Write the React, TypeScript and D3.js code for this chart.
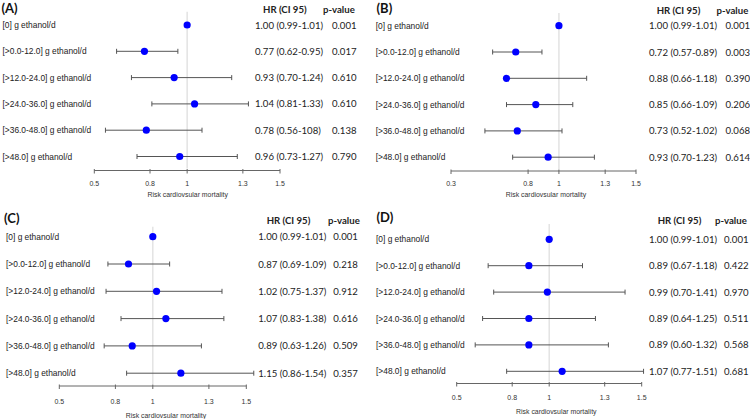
import React from "react";
import * as d3 from "d3";

const categories = [
  "[0] g ethanol/d",
  "[>0.0-12.0] g ethanol/d",
  "[>12.0-24.0] g ethanol/d",
  "[>24.0-36.0] g ethanol/d",
  "[>36.0-48.0] g ethanol/d",
  "[>48.0] g ethanol/d",
];

// Panel A
const estA = [1.0, 0.77, 0.93, 1.04, 0.78, 0.96];
const loA = [0.99, 0.62, 0.7, 0.81, 0.56, 0.73];
const hiA = [1.01, 0.95, 1.24, 1.33, 1.08, 1.27];
const hrTextA = ["1.00 (0.99-1.01)", "0.77 (0.62-0.95)", "0.93 (0.70-1.24)", "1.04 (0.81-1.33)", "0.78 (0.56-108)", "0.96 (0.73-1.27)"];
const pA = ["0.001", "0.017", "0.610", "0.610", "0.138", "0.790"];
const ticksA = [0.5, 0.8, 1, 1.3, 1.5];

// Panel B
const estB = [1.0, 0.72, 0.66, 0.85, 0.73, 0.93];
const loB = [0.99, 0.57, 0.66, 0.66, 0.52, 0.7];
const hiB = [1.01, 0.89, 1.18, 1.09, 1.02, 1.23];
const hrTextB = ["1.00 (0.99-1.01)", "0.72 (0.57-0.89)", "0.88 (0.66-1.18)", "0.85 (0.66-1.09)", "0.73 (0.52-1.02)", "0.93 (0.70-1.23)"];
const pB = ["0.001", "0.003", "0.390", "0.206", "0.068", "0.614"];
const ticksB = [0.3, 0.8, 1, 1.3, 1.5];

// Panel C
const estC = [1.0, 0.87, 1.02, 1.07, 0.89, 1.15];
const loC = [0.99, 0.76, 0.75, 0.83, 0.74, 0.86];
const hiC = [1.01, 1.09, 1.37, 1.38, 1.26, 1.54];
const hrTextC = ["1.00 (0.99-1.01)", "0.87 (0.69-1.09)", "1.02 (0.75-1.37)", "1.07 (0.83-1.38)", "0.89 (0.63-1.26)", "1.15 (0.86-1.54)"];
const pC = ["0.001", "0.218", "0.912", "0.616", "0.509", "0.357"];
const ticksC = [0.5, 0.8, 1, 1.3, 1.5];

// Panel D
const estD = [1.0, 0.89, 0.99, 0.89, 0.89, 1.07];
const loD = [0.99, 0.67, 0.7, 0.64, 0.6, 0.77];
const hiD = [1.01, 1.18, 1.41, 1.25, 1.32, 1.51];
const hrTextD = ["1.00 (0.99-1.01)", "0.89 (0.67-1.18)", "0.99 (0.70-1.41)", "0.89 (0.64-1.25)", "0.89 (0.60-1.32)", "1.07 (0.77-1.51)"];
const pD = ["0.001", "0.422", "0.970", "0.511", "0.568", "0.681"];
const ticksD = [0.5, 0.8, 1, 1.3, 1.5];

const panelTitles = ["(A)", "(B)", "(C)", "(D)"];
const axisTitle = "Risk cardiovsular mortality";
const hrHeader = "HR (CI 95)";
const pHeader = "p-value";

const layouts = [
  { x0: 94.3, x1: 280, y0: 25, step: 26.3, axisY: 170.5, tickLabY: 183, titleY: 194.5, titleX: 187.7, refTop: 11.7, headY: 9.5, hrX: 255, hrHeadX: 263, pHeadX: 323, pX: 332, labX: 2.5, ttlX: 1.5, ttlY: 7.5 },
  { x0: 451, x1: 636, y0: 25.7, step: 26.3, axisY: 171, tickLabY: 183, titleY: 194.5, titleX: 546, refTop: 13, headY: 10, hrX: 649, hrHeadX: 656.7, pHeadX: 716.5, pX: 725.5, labX: 375.7, ttlX: 376.5, ttlY: 7.5 },
  { x0: 59.3, x1: 246.3, y0: 236.7, step: 27.3, axisY: 386, tickLabY: 401, titleY: 415, titleX: 166, refTop: 226.7, headY: 220.7, hrX: 258.3, hrHeadX: 266.7, pHeadX: 328, pX: 333.3, labX: 6, ttlX: 4, ttlY: 217.5 },
  { x0: 456.7, x1: 641.7, y0: 239.3, step: 26.4, axisY: 383.5, tickLabY: 397, titleY: 411.7, titleX: 556.3, refTop: 224, headY: 220, hrX: 649, hrHeadX: 657.7, pHeadX: 715, pX: 724, labX: 376, ttlX: 376.5, ttlY: 217 },
];

const panelData = [
  { est: estA, lo: loA, hi: hiA, hr: hrTextA, p: pA, ticks: ticksA },
  { est: estB, lo: loB, hi: hiB, hr: hrTextB, p: pB, ticks: ticksB },
  { est: estC, lo: loC, hi: hiC, hr: hrTextC, p: pC, ticks: ticksC },
  { est: estD, lo: loD, hi: hiD, hr: hrTextD, p: pD, ticks: ticksD },
];

const LABEL_FONT = "'Liberation Sans', Arial, sans-serif";
const TABLE_FONT = "Lato, 'Liberation Sans', sans-serif";

function Panel({ idx }: { idx: number }) {
  const L = layouts[idx];
  const D = panelData[idx];
  const ticks = D.ticks;
  const x = d3.scaleLinear().domain([ticks[0], ticks[ticks.length - 1]]).range([L.x0, L.x1]);
  const y = d3.scaleLinear().domain([0, categories.length - 1]).range([L.y0, L.y0 + L.step * (categories.length - 1)]);
  const cap = 2.5;
  return (
    <g>
      <text x={L.ttlX} y={L.ttlY} dominantBaseline="central" fontFamily={TABLE_FONT} fontWeight="bold" fontSize={13} fill="#111">
        {panelTitles[idx]}
      </text>
      <text x={L.hrHeadX} y={L.headY} dominantBaseline="central" fontFamily={TABLE_FONT} fontWeight="bold" fontSize={9.6} fill="#222">
        {hrHeader}
      </text>
      <text x={L.pHeadX} y={L.headY} dominantBaseline="central" fontFamily={TABLE_FONT} fontWeight="bold" fontSize={9.6} fill="#222">
        {pHeader}
      </text>
      <line x1={x(1)} x2={x(1)} y1={L.refTop} y2={L.axisY - 2} stroke="#e3e3e3" strokeWidth={1.5} />
      {categories.map((c, i) => (
        <g key={i}>
          <text x={L.labX} y={y(i)} dominantBaseline="central" fontFamily={LABEL_FONT} fontSize={8.4} fill="#222">
            {c}
          </text>
          <line x1={x(D.lo[i])} x2={x(D.hi[i])} y1={y(i)} y2={y(i)} stroke="#555" strokeWidth={1} />
          <line x1={x(D.lo[i])} x2={x(D.lo[i])} y1={y(i) - cap} y2={y(i) + cap} stroke="#555" strokeWidth={1} />
          <line x1={x(D.hi[i])} x2={x(D.hi[i])} y1={y(i) - cap} y2={y(i) + cap} stroke="#555" strokeWidth={1} />
          <circle cx={x(D.est[i])} cy={y(i)} r={3.6} fill="#0000ff" />
          <text x={L.hrX} y={y(i)} dominantBaseline="central" fontFamily={TABLE_FONT} fontSize={9.6} fill="#222">
            {D.hr[i]}
          </text>
          <text x={L.pX} y={y(i)} dominantBaseline="central" fontFamily={TABLE_FONT} fontSize={9.6} fill="#222">
            {D.p[i]}
          </text>
        </g>
      ))}
      <line x1={L.x0} x2={L.x1} y1={L.axisY} y2={L.axisY} stroke="#666" strokeWidth={1} />
      {ticks.map((t, i) => (
        <g key={i}>
          <line x1={x(t)} x2={x(t)} y1={L.axisY - 1.5} y2={L.axisY + 3} stroke="#666" strokeWidth={1} />
          <text x={x(t)} y={L.tickLabY} textAnchor="middle" dominantBaseline="central" fontFamily={LABEL_FONT} fontSize={7} fill="#333">
            {String(t)}
          </text>
        </g>
      ))}
      <text x={L.titleX} y={L.titleY} textAnchor="middle" dominantBaseline="central" fontFamily={LABEL_FONT} fontSize={6.9} fill="#333">
        {axisTitle}
      </text>
    </g>
  );
}

export default function App() {
  return (
    <svg width={750} height={419} style={{ position: "absolute", left: 0, top: 0, background: "#fff" }}>
      <rect x={0} y={0} width={750} height={419} fill="#fff" />
      {[0, 1, 2, 3].map((i) => (
        <Panel key={i} idx={i} />
      ))}
    </svg>
  );
}
